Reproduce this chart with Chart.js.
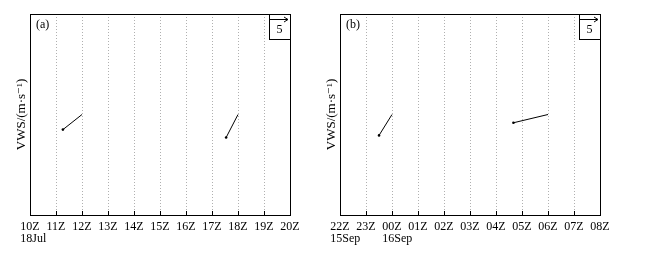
<!DOCTYPE html>
<html>
<head>
<meta charset="utf-8">
<script src="https://cdn.jsdelivr.net/npm/chart.js@4"></script>
<style>
  body { margin: 0; background: #fff; }
  .box { position: absolute; top: 0; height: 256px; }
</style>
</head>
<body>
<div class="box" style="left:0;width:320px"><canvas id="chartA" width="320" height="256"></canvas></div>
<div class="box" style="left:310px;width:355px"><canvas id="chartB" width="355" height="256"></canvas></div>
<script>
// panel (a): 18 Jul, hours 10Z..20Z
var hoursA = [10, 11, 12, 13, 14, 15, 16, 17, 18, 19, 20];
var tickLabelsA = ['10Z', '11Z', '12Z', '13Z', '14Z', '15Z', '16Z', '17Z', '18Z', '19Z', '20Z'];
var dateLabelsA = ['18Jul', '', '', '', '', '', '', '', '', '', ''];
var vecTimesA = [12, 18];
var vecUA = [-5.3, -3.3];   // m/s
var vecVA = [-4.2, -6.4];   // m/s

// panel (b): 15-16 Sep, hours 22Z..08Z
var hoursB = [22, 23, 24, 25, 26, 27, 28, 29, 30, 31, 32];
var tickLabelsB = ['22Z', '23Z', '00Z', '01Z', '02Z', '03Z', '04Z', '05Z', '06Z', '07Z', '08Z'];
var dateLabelsB = ['15Sep', '', '16Sep', '', '', '', '', '', '', '', ''];
var vecTimesB = [24, 30];
var vecUB = [-3.6, -9.6];
var vecVB = [-5.8, -2.3];

var refSpeed = 5;
// arrow of 5 m/s is 18 px, one hour is 26 px
var hoursPerMs = 18 / 5 / 26;
var yHalf = 100.5 / 3.6;

var serif = '"Liberation Serif", "DejaVu Serif", serif';

function makeChart(id, hours, tickLabels, dateLabels, times, u, v, tag, rightPad) {
  var datasets = [];
  for (var i = 0; i < times.length; i++) {
    datasets.push({
      data: [{x: times[i], y: 0}, {x: times[i] + u[i] * hoursPerMs, y: v[i]}],
      borderColor: '#000',
      borderWidth: 1,
      pointRadius: [0, 1.3],
      pointBackgroundColor: '#000',
      pointBorderWidth: 0,
      fill: false
    });
  }

  var frame = {
    id: 'frame',
    afterDraw: function(chart) {
      var c = chart.ctx, a = chart.chartArea, xs = chart.scales.x;
      c.save();
      c.strokeStyle = '#000';
      c.lineWidth = 1;
      c.strokeRect(a.left + 0.5, a.top + 0.5, a.right - a.left, a.bottom - a.top);
      // inner tick marks
      c.beginPath();
      hours.forEach(function(h) {
        var px = Math.round(xs.getPixelForValue(h)) + 0.5;
        c.moveTo(px, a.bottom);
        c.lineTo(px, a.bottom - 4);
      });
      c.stroke();
      // date line under the hour labels, left aligned with them
      c.fillStyle = '#000';
      c.font = '12px ' + serif;
      c.textAlign = 'left';
      c.textBaseline = 'alphabetic';
      hours.forEach(function(h, k) {
        if (!dateLabels[k]) return;
        var w = c.measureText(tickLabels[k]).width;
        c.fillText(dateLabels[k], xs.getPixelForValue(h) - w / 2, 242);
      });
      // panel tag
      c.textBaseline = 'middle';
      c.fillText(tag, a.left + 6, a.top + 11);
      // reference vector box
      var bw = 21, bh = 25;
      c.fillStyle = '#fff';
      c.fillRect(a.right - bw, a.top, bw, bh);
      c.strokeRect(a.right - bw + 0.5, a.top + 0.5, bw, bh);
      var len = refSpeed * hoursPerMs * (a.right - a.left) / (hours[hours.length - 1] - hours[0]);
      var x0 = a.right - bw + 1, y0 = a.top + 5.5;
      c.beginPath();
      c.moveTo(x0, y0);
      c.lineTo(x0 + len, y0);
      c.moveTo(x0 + len - 4, y0 - 2.5);
      c.lineTo(x0 + len, y0);
      c.lineTo(x0 + len - 4, y0 + 2.5);
      c.stroke();
      c.fillStyle = '#000';
      c.textAlign = 'center';
      c.fillText(String(refSpeed), a.right - bw / 2, a.top + 16);
      c.restore();
    }
  };

  return new Chart(document.getElementById(id), {
    type: 'line',
    data: { datasets: datasets },
    options: {
      responsive: false,
      animation: false,
      layout: { padding: { top: 14, right: rightPad, left: 0, bottom: 0 } },
      plugins: { legend: { display: false }, tooltip: { enabled: false } },
      scales: {
        x: {
          type: 'linear',
          min: hours[0],
          max: hours[hours.length - 1],
          afterBuildTicks: function(axis) {
            axis.ticks = hours.map(function(h) { return {value: h}; });
          },
          afterFit: function(axis) { axis.height = 41; },
          grid: {
            color: '#b0b0b0',
            lineWidth: 1,
            drawTicks: false
          },
          border: { display: false, dash: [1, 2] },
          ticks: {
            color: '#000',
            padding: 5,
            maxRotation: 0,
            autoSkip: false,
            font: { family: serif, size: 12 },
            callback: function(val) {
              var k = hours.indexOf(val);
              return k < 0 ? '' : tickLabels[k];
            }
          }
        },
        y: {
          min: -yHalf,
          max: yHalf,
          afterFit: function(axis) { axis.width = 30; },
          grid: { display: false },
          border: { display: false },
          ticks: { display: false },
          title: {
            display: true,
            text: 'VWS/(m·s⁻¹)',
            color: '#000',
            padding: { top: 14, bottom: 0 },
            font: { family: serif, size: 13 }
          }
        }
      }
    },
    plugins: [frame]
  });
}

makeChart('chartA', hoursA, tickLabelsA, dateLabelsA, vecTimesA, vecUA, vecVA, '(a)', 30);
makeChart('chartB', hoursB, tickLabelsB, dateLabelsB, vecTimesB, vecUB, vecVB, '(b)', 65);
</script>
</body>
</html>
